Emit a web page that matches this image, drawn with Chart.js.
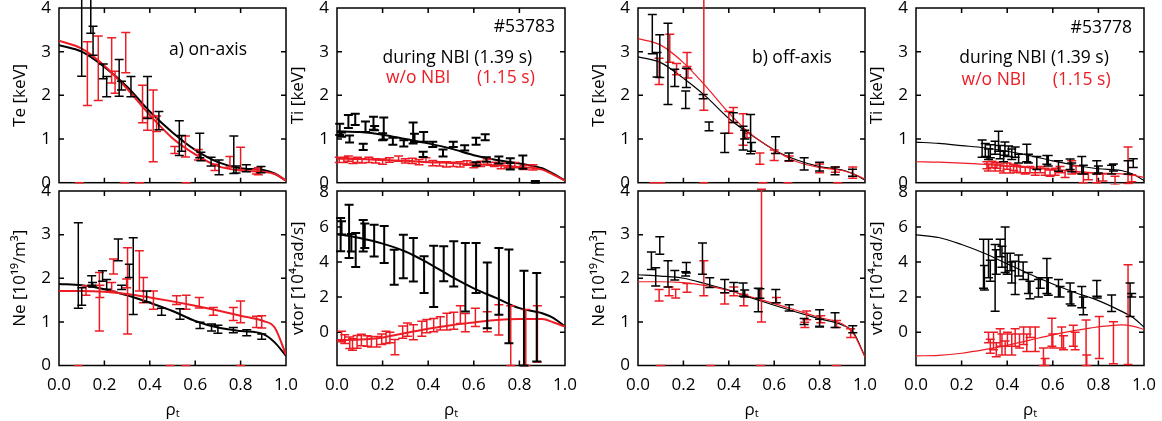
<!DOCTYPE html>
<html>
<head>
<meta charset="utf-8">
<script src="https://cdn.jsdelivr.net/npm/chart.js@4.4.0/dist/chart.umd.min.js"></script>
<style>
body { margin: 0; background: #fff; }
#wrap { position: relative; width: 1162px; height: 421px; }
#wrap canvas { position: absolute; left: 0; top: 0; }
</style>
</head>
<body>
<div id="wrap">
<canvas id="c0" width="1162" height="421"></canvas>
<canvas id="c1" width="1162" height="421"></canvas>
<canvas id="c2" width="1162" height="421"></canvas>
<canvas id="c3" width="1162" height="421"></canvas>
<canvas id="c4" width="1162" height="421"></canvas>
<canvas id="c5" width="1162" height="421"></canvas>
<canvas id="c6" width="1162" height="421"></canvas>
<canvas id="c7" width="1162" height="421"></canvas>
</div>
<script>
// tick values
var xTicks = [0, 0.2, 0.4, 0.6, 0.8, 1.0];
var keVTicks = [0, 1, 2, 3, 4];
var neTicks = [0, 1, 2, 3, 4];
var vtorTicks = [0, 2, 4, 6, 8];

// rho grid for the fitted profiles
var fitX = [0, 0.1, 0.2, 0.3, 0.4, 0.5, 0.6, 0.7, 0.8, 0.9, 0.95, 1.0];

// measured points: [rho, value, error]
// a) on-axis, Te
var teOnBlack = [[0.10,3.32,0.88],[0.14,3.95,0.53],[0.15,3.25,0.33],[0.195,2.55,0.17],[0.21,2.2,0.23],[0.265,2.4,0.42],[0.275,2.22,0.1],[0.317,2.2,0.23],[0.39,1.95,0.48],[0.44,1.42,0.21],[0.53,1.02,0.4],[0.54,0.9,0.18],[0.62,0.85,0.28],[0.625,0.6,0.1],[0.67,0.48,0.1],[0.705,0.35,0.17],[0.77,0.64,0.43],[0.78,0.3,0.08],[0.825,0.33,0.08],[0.89,0.3,0.07]];
var teOnRed = [[0.125,2.5,0.73],[0.173,2.62,0.74],[0.232,2.8,0.52],[0.247,2.3,0.25],[0.294,2.98,0.46],[0.368,1.8,0.43],[0.39,1.35,0.15],[0.415,1.3,0.82],[0.43,1.35,0.18],[0.51,0.75,0.08],[0.557,0.83,0.24],[0.614,0.64,0.12],[0.687,0.35,0.07],[0.753,0.48,0.12],[0.8,0.55,0.26],[0.87,0.25,0.05],[0.878,0.26,0.08],[0.09,0,0],[0.29,0,0],[0.355,0,0],[0.56,0,0]];
var teOnBlackFit = [3.15,3.0,2.65,2.2,1.63,1.15,0.75,0.47,0.33,0.29,0.21,0.05];
var teOnRedFit = [3.25,3.07,2.68,2.15,1.55,1.02,0.65,0.38,0.28,0.25,0.2,0.05];

// a) on-axis, Ti
var tiOnBlack = [[0.012,1.22,0.13],[0.02,1.1,0.05],[0.05,1.4,0.15],[0.055,1.0,0.08],[0.08,1.45,0.13],[0.115,0.82,0.07],[0.125,1.28,0.12],[0.16,1.36,0.15],[0.165,1.25,0.05],[0.205,1.24,0.25],[0.2,1.05,0.08],[0.245,0.95,0.08],[0.293,0.9,0.07],[0.334,1.14,0.24],[0.34,1.03,0.09],[0.378,0.65,0.06],[0.38,1.05,0.11],[0.42,0.88,0.06],[0.465,0.68,0.08],[0.51,0.88,0.06],[0.56,0.8,0.06],[0.61,0.95,0.08],[0.61,0.43,0.04],[0.65,1.04,0.07],[0.655,0.53,0.05],[0.71,0.52,0.08],[0.76,0.43,0.13],[0.76,0.38,0.07],[0.815,0.47,0.15],[0.87,0.02,0.02]];
var tiOnRed = [[0.01,0.52,0.06],[0.03,0.52,0.06],[0.05,0.55,0.06],[0.07,0.5,0.06],[0.09,0.52,0.06],[0.11,0.5,0.05],[0.14,0.52,0.06],[0.17,0.5,0.05],[0.2,0.48,0.06],[0.23,0.52,0.05],[0.27,0.55,0.06],[0.3,0.5,0.05],[0.33,0.5,0.06],[0.36,0.47,0.06],[0.39,0.52,0.05],[0.42,0.45,0.06],[0.45,0.43,0.05],[0.48,0.42,0.06],[0.51,0.42,0.05],[0.54,0.42,0.06],[0.57,0.45,0.05],[0.6,0.4,0.06],[0.63,0.43,0.06],[0.66,0.48,0.06],[0.69,0.42,0.05],[0.72,0.38,0.06],[0.75,0.4,0.05],[0.78,0.4,0.06],[0.82,0.35,0.05],[0.86,0.35,0.06]];
var tiOnBlackFit = [1.18,1.16,1.1,1.0,0.9,0.78,0.63,0.52,0.44,0.33,0.2,0.05];
var tiOnRedFit = [0.55,0.54,0.52,0.5,0.47,0.45,0.42,0.4,0.36,0.3,0.18,0.05];

// b) off-axis, Te
var teOffBlack = [[0.063,3.4,0.45],[0.084,2.7,0.28],[0.096,2.9,0.49],[0.132,2.72,0.93],[0.162,2.4,0.2],[0.213,2.4,0.22],[0.21,1.9,0.2],[0.287,1.97,0.05],[0.313,1.29,0.1],[0.382,0.91,0.22],[0.42,1.49,0.11],[0.463,1.02,0.27],[0.47,1.1,0.1],[0.496,1.11,0.45],[0.5,0.82,0.1],[0.606,0.86,0.19],[0.665,0.59,0.09],[0.732,0.43,0.14],[0.8,0.37,0.1],[0.868,0.27,0.09],[0.945,0.23,0.08]];
var teOffRed = [[0.093,2.55,0.3],[0.14,3.08,0.32],[0.17,2.6,0.13],[0.216,2.82,0.16],[0.22,2.5,0.1],[0.29,3.06,1.4],[0.4,1.38,0.25],[0.42,1.55,0.17],[0.463,1.22,0.36],[0.48,1.08,0.05],[0.537,0.55,0.13],[0.6,0.63,0.12],[0.666,0.55,0.06],[0.8,0.33,0.1],[0.87,0.3,0.06],[0.946,0.23,0.13],[0.07,0,0],[0.1,0,0],[0.29,0,0],[0.55,0,0],[0.66,0,0],[0.88,0,0]];
var teOffBlackFit = [2.88,2.75,2.39,1.97,1.47,1.09,0.75,0.52,0.37,0.29,0.2,0.06];
var teOffRedFit = [3.3,3.15,2.75,2.2,1.6,1.1,0.75,0.48,0.35,0.28,0.2,0.08];

// b) off-axis, Ti
var tiOffBlack = [[0.29,0.78,0.2],[0.304,0.75,0.15],[0.318,0.65,0.12],[0.326,0.72,0.15],[0.347,0.8,0.15],[0.362,0.95,0.23],[0.369,0.7,0.15],[0.384,0.6,0.12],[0.39,0.78,0.15],[0.406,0.72,0.12],[0.42,0.65,0.12],[0.435,0.7,0.12],[0.45,0.55,0.1],[0.486,0.68,0.2],[0.493,0.55,0.1],[0.53,0.45,0.15],[0.574,0.52,0.1],[0.58,0.5,0.12],[0.625,0.38,0.12],[0.676,0.42,0.12],[0.683,0.35,0.1],[0.727,0.4,0.2],[0.734,0.3,0.1],[0.793,0.35,0.15],[0.8,0.3,0.08],[0.858,0.3,0.1],[0.866,0.35,0.08],[0.93,0.35,0.15],[0.953,0.45,0.1]];
var tiOffRed = [[0.311,0.4,0.08],[0.318,0.35,0.08],[0.333,0.42,0.07],[0.347,0.35,0.08],[0.355,0.4,0.07],[0.369,0.35,0.08],[0.384,0.3,0.08],[0.399,0.38,0.07],[0.413,0.3,0.08],[0.428,0.35,0.07],[0.442,0.32,0.08],[0.457,0.3,0.07],[0.479,0.28,0.08],[0.5,0.3,0.07],[0.523,0.25,0.08],[0.545,0.3,0.07],[0.566,0.25,0.08],[0.588,0.22,0.07],[0.61,0.25,0.08],[0.632,0.3,0.07],[0.654,0.2,0.08],[0.683,0.35,0.15],[0.702,0.3,0.08],[0.734,0.1,0.1],[0.756,0.15,0.08],[0.793,0.1,0.1],[0.82,0.12,0.08],[0.873,0.05,0.1],[0.93,0.4,0.42],[0.946,0.1,0.08]];
var tiOffBlackFit = [0.93,0.9,0.85,0.8,0.72,0.62,0.5,0.4,0.32,0.28,0.2,0.05];
var tiOffRedFit = [0.48,0.47,0.45,0.42,0.38,0.34,0.3,0.26,0.22,0.2,0.17,0.12];

// a) on-axis, Ne
var neOnBlack = [[0.085,2.29,0.98],[0.1,1.58,0.2],[0.144,1.95,0.11],[0.148,1.85,0.05],[0.192,2.05,0.12],[0.21,1.86,0.11],[0.261,2.65,0.25],[0.276,1.79,0.05],[0.31,2.17,0.15],[0.327,2.05,0.88],[0.386,1.58,0.13],[0.452,1.23,0.08],[0.533,1.18,0.12],[0.621,0.92,0.07],[0.672,0.87,0.08],[0.70,0.83,0.09],[0.768,0.81,0.06],[0.827,0.75,0.07],[0.893,0.66,0.06]];
var neOnRed = [[0.119,1.72,0.11],[0.178,1.46,0.67],[0.18,1.7,0.14],[0.24,2.27,0.17],[0.232,1.8,0.1],[0.302,1.71,0.99],[0.298,1.88,0.1],[0.354,2.17,0.46],[0.372,1.73,0.29],[0.416,1.5,0.21],[0.518,1.5,0.1],[0.56,1.45,0.16],[0.618,1.44,0.12],[0.68,1.24,0.09],[0.768,1.18,0.15],[0.8,1.23,0.25],[0.87,1.0,0.13],[0.893,1.0,0.14],[0.085,0,0],[0.49,0,0],[0.56,0,0],[0.8,0,0]];
var neOnBlackFit = [1.87,1.84,1.75,1.61,1.44,1.25,1.02,0.87,0.79,0.72,0.53,0.22];
var neOnRedFit = [1.71,1.71,1.69,1.64,1.56,1.47,1.37,1.26,1.14,1.02,0.87,0.25];

// a) on-axis, vtor
var vtorOnBlack = [[0.016,5.56,0.95],[0.02,5.95,0.38],[0.053,5.75,1.52],[0.063,5.1,0.5],[0.082,4.68,0.97],[0.115,5.5,0.9],[0.122,5.5,0.7],[0.163,5.22,0.9],[0.207,5.0,1.05],[0.251,3.7,1.0],[0.291,4.32,1.24],[0.335,4.13,1.24],[0.382,3.28,1.05],[0.424,3.18,1.75],[0.468,3.9,1.0],[0.512,3.9,1.29],[0.563,3.13,1.95],[0.61,3.66,1.43],[0.659,2.1,1.87],[0.71,2.9,1.9],[0.754,2.04,2.67],[0.82,0.8,2.7],[0.876,0.85,2.52]];
var vtorOnRed = [[0.02,-0.25,0.3],[0.034,-0.4,0.25],[0.056,-0.6,0.33],[0.068,-0.7,0.33],[0.088,-0.55,0.36],[0.107,-0.45,0.33],[0.132,-0.5,0.3],[0.151,-0.55,0.3],[0.174,-0.55,0.3],[0.196,-0.4,0.3],[0.215,-0.3,0.35],[0.232,-0.3,0.3],[0.254,-0.85,0.43],[0.288,0.0,0.35],[0.309,0.15,0.38],[0.335,0.0,0.43],[0.372,0.2,0.43],[0.394,0.35,0.38],[0.424,0.4,0.38],[0.453,0.5,0.38],[0.482,0.6,0.48],[0.512,0.65,0.48],[0.541,1.0,0.5],[0.563,0.55,0.52],[0.607,0.85,0.52],[0.659,0.6,0.57],[0.71,0.7,0.86],[0.762,-0.2,1.7],[0.828,-0.3,1.6],[0.879,-0.1,1.6]];
var vtorOnBlackFit = [5.6,5.37,5.05,4.6,3.94,3.18,2.5,1.94,1.37,1.08,0.8,0.32];
var vtorOnRedFit = [-0.45,-0.42,-0.3,-0.05,0.2,0.4,0.55,0.7,0.75,0.75,0.55,0.32];

// b) off-axis, Ne
var neOffBlack = [[0.059,2.4,0.2],[0.078,2.03,0.21],[0.096,2.75,0.2],[0.132,2.1,0.3],[0.162,2.07,0.11],[0.213,2.24,0.12],[0.21,2.1,0.05],[0.284,2.45,0.36],[0.316,1.9,0.11],[0.382,1.82,0.15],[0.422,1.8,0.1],[0.463,1.74,0.15],[0.47,1.65,0.08],[0.53,1.5,0.27],[0.537,1.65,0.11],[0.607,1.59,0.15],[0.666,1.32,0.07],[0.732,1.01,0.07],[0.8,1.08,0.2],[0.8,0.98,0.08],[0.868,1.04,0.17],[0.946,0.83,0.08]];
var neOffRed = [[0.093,1.61,0.13],[0.137,1.7,0.1],[0.166,1.65,0.1],[0.216,1.78,0.1],[0.29,2.0,0.4],[0.382,1.54,0.13],[0.422,1.7,0.1],[0.466,1.5,0.13],[0.544,2.52,1.52],[0.61,1.5,0.06],[0.743,1.15,0.1],[0.735,0.93,0.06],[0.805,1.06,0.08],[0.875,0.95,0.08],[0.937,0.74,0.1],[0.1,0,0],[0.32,0,0],[0.54,0,0],[0.875,0,0]];
var neOffBlackFit = [2.08,2.05,2.0,1.87,1.73,1.55,1.38,1.22,1.07,0.93,0.75,0.2];
var neOffRedFit = [1.92,1.92,1.9,1.83,1.72,1.57,1.42,1.26,1.1,0.95,0.72,0.2];

// b) off-axis, vtor
var vtorOffBlack = [[0.296,3.9,1.4],[0.3,3.1,0.7],[0.318,4.2,1.1],[0.326,3.5,0.6],[0.347,3.1,1.9],[0.352,4.0,0.7],[0.369,4.8,0.5],[0.377,4.3,0.6],[0.391,4.7,1.3],[0.4,3.9,0.6],[0.413,4.0,0.5],[0.42,3.4,0.6],[0.435,3.1,0.95],[0.45,3.8,0.6],[0.47,3.5,0.5],[0.493,2.8,0.6],[0.5,2.4,0.5],[0.537,2.5,0.5],[0.545,2.8,0.3],[0.574,3.2,1.0],[0.58,2.6,0.5],[0.625,2.5,0.5],[0.632,2.3,0.3],[0.676,2.2,0.6],[0.683,1.9,0.4],[0.727,2.0,0.6],[0.734,1.5,0.5],[0.793,2.5,0.45],[0.795,2.0,0.05],[0.858,1.65,0.47],[0.939,1.85,0.95],[0.946,2.1,0.1]];
var vtorOffRed = [[0.318,-0.3,0.3],[0.326,-0.8,0.4],[0.34,-0.5,0.5],[0.352,-1.0,0.4],[0.369,-0.3,0.5],[0.377,-0.7,0.6],[0.391,-0.9,0.4],[0.401,-0.4,0.4],[0.42,-0.7,0.6],[0.435,-0.3,0.5],[0.454,-0.5,0.4],[0.472,-0.2,0.5],[0.486,-0.6,0.5],[0.5,0.0,0.3],[0.523,-0.4,0.7],[0.559,-1.4,0.5],[0.566,-1.7,0.2],[0.596,0.0,0.8],[0.6,-0.5,0.4],[0.639,-0.3,0.6],[0.647,-0.6,0.4],[0.69,-0.2,0.6],[0.698,-0.5,0.5],[0.746,-0.6,1.3],[0.749,-1.6,0.3],[0.804,-0.3,1.2],[0.866,-0.6,1.2],[0.93,1.0,2.85]];
var vtorOffBlackFit = [5.55,5.4,5.0,4.5,3.9,3.3,2.75,2.25,1.8,1.2,0.85,0.3];
var vtorOffRedFit = [-1.35,-1.32,-1.2,-1.0,-0.75,-0.45,-0.15,0.1,0.3,0.42,0.35,0.15];

var RED = 'rgb(237,28,36)', BLK = '#000';
var colL = [59, 337, 638, 916], colR = [286, 565, 865, 1144];
var rowT = [8, 191], rowB = [182.7, 365.5];
var YAXW = 49;
var FONT = '"Open Sans", "DejaVu Sans", sans-serif';

Chart.defaults.font.family = FONT;
Chart.defaults.font.size = 17;
Chart.defaults.color = '#000';

// inward ticks + box, drawn under the data like matlab
var framePlugin = {
    id: 'frame',
    beforeDatasetsDraw: function(chart) {
        var ctx = chart.ctx, a = chart.chartArea, x = chart.scales.x, y = chart.scales.y;
        ctx.save();
        ctx.strokeStyle = '#000';
        ctx.lineWidth = 1.5;
        ctx.strokeRect(a.left, a.top, a.right - a.left, a.bottom - a.top);
        ctx.beginPath();
        x.ticks.forEach(function(t) {
            var px = x.getPixelForValue(t.value);
            if (px < a.left + 2 || px > a.right - 2) return;
            ctx.moveTo(px, a.bottom); ctx.lineTo(px, a.bottom - 5);
            ctx.moveTo(px, a.top); ctx.lineTo(px, a.top + 5);
        });
        y.ticks.forEach(function(t) {
            var py = y.getPixelForValue(t.value);
            if (py < a.top + 2 || py > a.bottom - 2) return;
            ctx.moveTo(a.left, py); ctx.lineTo(a.left + 5, py);
            ctx.moveTo(a.right, py); ctx.lineTo(a.right - 5, py);
        });
        ctx.stroke();
        ctx.restore();
    }
};

var errorBarPlugin = {
    id: 'errbars',
    afterDatasetsDraw: function(chart) {
        var ctx = chart.ctx, ys = chart.scales.y, a = chart.chartArea;
        ctx.save();
        ctx.beginPath();
        ctx.rect(0, 0, chart.width, a.bottom + 2);
        ctx.clip();
        chart.data.datasets.forEach(function(ds, i) {
            if (!ds.err) return;
            var pts = chart.getDatasetMeta(i).data;
            ctx.strokeStyle = ds.borderColor;
            ctx.lineWidth = ds.barWidth;
            ctx.beginPath();
            pts.forEach(function(p, j) {
                var v = ds.data[j].y, e = ds.err[j];
                var top = ys.getPixelForValue(v + e), bot = ys.getPixelForValue(v - e);
                ctx.moveTo(p.x, top); ctx.lineTo(p.x, bot);
                ctx.moveTo(p.x - 4.5, top); ctx.lineTo(p.x + 4.5, top);
                ctx.moveTo(p.x - 4.5, bot); ctx.lineTo(p.x + 4.5, bot);
            });
            ctx.stroke();
        });
        ctx.restore();
    }
};

function panel(id, col, row, p) {
    var datasets = [];
    p.fits.forEach(function(f) {
        datasets.push({
            type: 'line',
            data: fitX.map(function(x, i) { return {x: x, y: f[1][i]}; }),
            borderColor: f[0],
            borderWidth: p.fitW,
            pointRadius: 0,
            cubicInterpolationMode: 'monotone',
            fill: false
        });
    });
    p.bars.forEach(function(b) {
        datasets.push({
            type: 'scatter',
            data: b[1].map(function(t) { return {x: t[0], y: t[1]}; }),
            err: b[1].map(function(t) { return t[2]; }),
            borderColor: b[0],
            backgroundColor: b[0],
            barWidth: b[2],
            pointRadius: 0
        });
    });
    var notes = {
        id: 'notes',
        afterDraw: function(chart) {
            var ctx = chart.ctx, xs = chart.scales.x, ys = chart.scales.y;
            ctx.save();
            ctx.font = '17.5px ' + FONT;
            ctx.textBaseline = 'middle';
            p.notes.forEach(function(n) {
                ctx.fillStyle = n.c;
                ctx.textAlign = n.a || 'left';
                ctx.fillText(n.t, xs.getPixelForValue(n.x), ys.getPixelForValue(n.y));
            });
            ctx.restore();
        }
    };
    new Chart(document.getElementById(id), {
        type: 'scatter',
        data: {datasets: datasets},
        plugins: [framePlugin, errorBarPlugin, notes],
        options: {
            responsive: false,
            animation: false,
            events: [],
            layout: {padding: {left: colL[col] - YAXW, right: 1162 - colR[col], top: rowT[row], bottom: row === 0 ? 421 - rowB[0] : 0}},
            plugins: {legend: {display: false}, tooltip: {enabled: false}},
            scales: {
                x: {
                    type: 'linear', min: 0, max: 1,
                    afterBuildTicks: function(s) { s.ticks = xTicks.map(function(v) { return {value: v}; }); },
                    grid: {display: false, drawTicks: false},
                    border: {display: false},
                    ticks: {display: row === 1, padding: 9, maxRotation: 0, autoSkip: false,
                        callback: function(v) { return v.toFixed(1); }},
                    title: {display: row === 1, text: 'ρₜ', padding: {top: 0, bottom: 1}},
                    afterFit: function(s) { s.height = row === 1 ? 421 - rowB[1] : 0; s.paddingLeft = 0; s.paddingRight = 0; }
                },
                y: {
                    type: 'linear', min: p.yMin, max: p.yMax,
                    afterBuildTicks: function(s) { s.ticks = p.yTicks.map(function(v) { return {value: v}; }); },
                    grid: {display: false, drawTicks: false},
                    border: {display: false},
                    ticks: {padding: 8},
                    title: {display: true, text: p.title, padding: 0},
                    afterFit: function(s) { s.width = YAXW; s.paddingTop = 0; s.paddingBottom = 0; }
                }
            }
        }
    });
}

panel('c0', 0, 0, {title: 'Te [keV]', yMin: 0, yMax: 4, yTicks: keVTicks, fitW: 2,
    fits: [[RED, teOnRedFit], [BLK, teOnBlackFit]],
    bars: [[RED, teOnRed, 1.5], [BLK, teOnBlack, 1.5]],
    notes: [{t: 'a) on-axis', x: 0.485, y: 3.04, c: BLK}]});
panel('c1', 1, 0, {title: 'Ti [keV]', yMin: 0, yMax: 4, yTicks: keVTicks, fitW: 2,
    fits: [[RED, tiOnRedFit], [BLK, tiOnBlackFit]],
    bars: [[RED, tiOnRed, 1.5], [BLK, tiOnBlack, 2]],
    notes: [{t: '#53783', x: 0.956, y: 3.57, c: BLK, a: 'right'},
            {t: 'during NBI (1.39 s)', x: 0.2, y: 2.86, c: BLK},
            {t: 'w/o NBI', x: 0.215, y: 2.4, c: RED},
            {t: '(1.15 s)', x: 0.614, y: 2.4, c: RED}]});
panel('c2', 2, 0, {title: 'Te [keV]', yMin: 0, yMax: 4, yTicks: keVTicks, fitW: 1.2,
    fits: [[RED, teOffRedFit], [BLK, teOffBlackFit]],
    bars: [[RED, teOffRed, 1.5], [BLK, teOffBlack, 1.5]],
    notes: [{t: 'b) off-axis', x: 0.502, y: 2.86, c: BLK}]});
panel('c3', 3, 0, {title: 'Ti [keV]', yMin: 0, yMax: 4, yTicks: keVTicks, fitW: 1.2,
    fits: [[RED, tiOffRedFit], [BLK, tiOffBlackFit]],
    bars: [[RED, tiOffRed, 1.5], [BLK, tiOffBlack, 1.5]],
    notes: [{t: '#53778', x: 0.947, y: 3.54, c: BLK, a: 'right'},
            {t: 'during NBI (1.39 s)', x: 0.19, y: 2.86, c: BLK},
            {t: 'w/o NBI', x: 0.2, y: 2.35, c: RED},
            {t: '(1.15 s)', x: 0.6, y: 2.35, c: RED}]});
panel('c4', 0, 1, {title: 'Ne [10¹⁹/m³]', yMin: 0, yMax: 4, yTicks: neTicks, fitW: 2,
    fits: [[RED, neOnRedFit], [BLK, neOnBlackFit]],
    bars: [[RED, neOnRed, 1.5], [BLK, neOnBlack, 1.5]],
    notes: []});
panel('c5', 1, 1, {title: 'vtor [10⁴rad/s]', yMin: -1.9, yMax: 8.05, yTicks: vtorTicks, fitW: 2,
    fits: [[RED, vtorOnRedFit], [BLK, vtorOnBlackFit]],
    bars: [[RED, vtorOnRed, 1.5], [BLK, vtorOnBlack, 2]],
    notes: []});
panel('c6', 2, 1, {title: 'Ne [10¹⁹/m³]', yMin: 0, yMax: 4, yTicks: neTicks, fitW: 1.2,
    fits: [[RED, neOffRedFit], [BLK, neOffBlackFit]],
    bars: [[RED, neOffRed, 1.5], [BLK, neOffBlack, 1.5]],
    notes: []});
panel('c7', 3, 1, {title: 'vtor [10⁴rad/s]', yMin: -1.9, yMax: 8.05, yTicks: vtorTicks, fitW: 1.2,
    fits: [[RED, vtorOffRedFit], [BLK, vtorOffBlackFit]],
    bars: [[RED, vtorOffRed, 1.5], [BLK, vtorOffBlack, 1.5]],
    notes: []});
</script>
</body>
</html>
